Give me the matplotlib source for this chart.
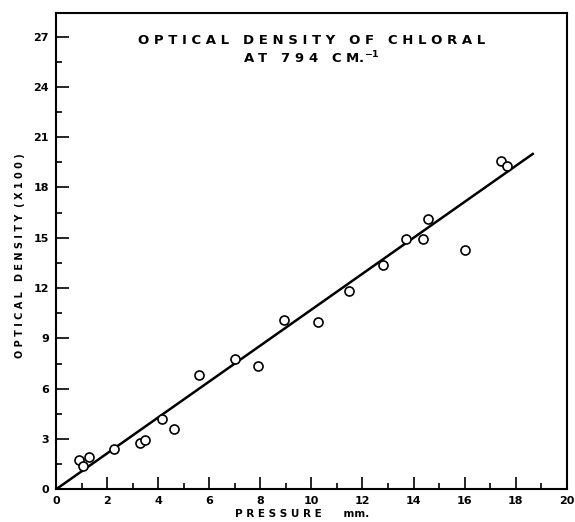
import matplotlib.pyplot as plt
import numpy as np
from matplotlib.ticker import MultipleLocator

# measured points: pressure (mm) vs optical density (x100)
pressure = [0.90, 1.05, 1.30, 2.26, 3.29, 3.49, 4.16, 4.63, 5.60, 7.02, 7.90,
            8.93, 10.25, 11.48, 12.82, 13.71, 14.37, 14.57, 16.02, 17.42, 17.65]
density = [1.75, 1.41, 1.91, 2.42, 2.78, 2.94, 4.21, 3.60, 6.82, 7.78, 7.36,
           10.07, 10.00, 11.80, 13.39, 14.94, 14.93, 16.12, 14.30, 19.60, 19.30]

# fitted straight line through the origin
fit_x = [0, 18.67]
fit_y = [0, 20.0]


def spaced(s):
    # wide lettering like the original stencil text
    return '   '.join(' '.join(w) for w in s.split())


plt.rcParams['font.family'] = 'DejaVu Sans'
plt.rcParams['font.weight'] = 'bold'

fig = plt.figure(figsize=(5.75, 5.22), dpi=100)
ax = fig.add_axes([0.0974, 0.0626, 0.8882, 0.9124])

ax.plot(fit_x, fit_y, color='black', lw=1.8, zorder=2)
ax.plot(pressure, density, 'o', ms=6.5, mfc='white', mec='black', mew=1.2, zorder=3)

ax.set_xlim(0, 20)
ax.set_ylim(0, 28.4)
ax.xaxis.set_major_locator(MultipleLocator(2))
ax.xaxis.set_minor_locator(MultipleLocator(1))
ax.yaxis.set_major_locator(MultipleLocator(3))
ax.yaxis.set_minor_locator(MultipleLocator(1.5))
ax.set_yticks(np.arange(0, 28, 3))
ax.tick_params(which='major', direction='in', length=9, width=1.2, labelsize=8, pad=5)
ax.tick_params(which='minor', direction='in', length=4.5, width=1.2)
for s in ax.spines.values():
    s.set_linewidth(1.5)

ax.text(0.5, 0.943, spaced('OPTICAL DENSITY OF CHLORAL'), transform=ax.transAxes,
        ha='center', va='center', fontsize=9.5)
ax.text(0.5, 0.906, spaced('AT 794') + '   ' + 'C M.$^{-1}$', transform=ax.transAxes,
        ha='center', va='center', fontsize=9.5)

fig.text(0.525, 0.006, spaced('PRESSURE') + '      mm.', ha='center', va='bottom', fontsize=7.5)
fig.text(0.035, 0.511, spaced('OPTICAL DENSITY') + '  ( X 1 0 0 )', rotation=90,
         ha='center', va='center', fontsize=7)

fig.savefig('out.png', dpi=100)
